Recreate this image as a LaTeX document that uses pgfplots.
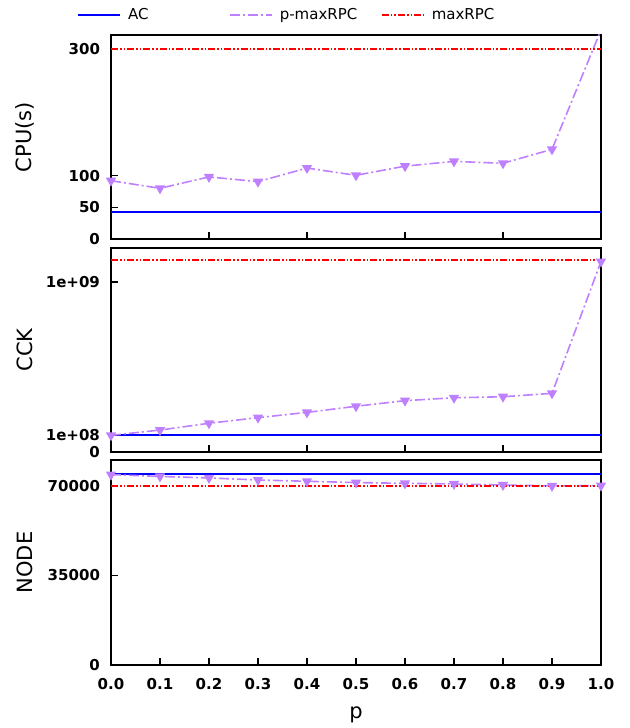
\documentclass[border=0pt]{standalone}
\usepackage{fontspec}
\setmainfont{DejaVu Sans}
\usepackage{pgfplots}
\pgfplotsset{compat=1.18}

\definecolor{acblue}{RGB}{0,0,255}
\definecolor{pmaxc}{RGB}{190,128,255}
\definecolor{maxc}{RGB}{255,0,0}

\pgfplotsset{
  panel/.style={
    scale only axis, width=245pt,
    xmin=0, xmax=1, ymin=0,
    axis line style={line width=0.9pt},
    tick align=inside, major tick length=3.5pt,
    xtick pos=bottom, ytick pos=left,
    tick style={line width=0.6pt, black},
    /pgf/number format/assume math mode=true,
    ticklabel style={font=\bfseries\fontsize{7.5}{9}\selectfont},
    yticklabel style={xshift=-2pt},
    xticklabel style={yshift=-3pt},
    label style={font=\fontsize{10.5}{12}\selectfont},
    ylabel style={at={(axis description cs:-0.175,0.5)}, anchor=center},
    scaled ticks=false,
    clip=true,
  },
  acs/.style={draw=acblue, color=acblue, line width=0.8pt, mark=none},
  pms/.style={draw=pmaxc, color=pmaxc, line width=0.8pt, dash pattern=on 5pt off 1.5pt on 1pt off 1.5pt,
    mark=triangle*, mark size=2.2pt, mark options={solid, rotate=180, fill=pmaxc, draw=pmaxc}},
  mrs/.style={draw=maxc, color=maxc, line width=1pt, dash pattern=on 3.5pt off 1pt on 0.8pt off 1pt on 0.8pt off 1pt, mark=none},
}

\begin{document}
\begin{tikzpicture}
\path[use as bounding box] (-55.5pt,-31.5pt) rectangle (259.5pt,332.5pt);

% NODE
\begin{axis}[panel, at={(0pt,0pt)}, anchor=south west, height=102.5pt,
  ymax=80000, ytick={0,35000,70000}, yticklabels={0,35000,70000},
  xtick={0,0.1,...,1.0},
  xticklabels={0.0,0.1,0.2,0.3,0.4,0.5,0.6,0.7,0.8,0.9,1.0},
  ylabel={NODE}, xlabel={p},
  xlabel style={at={(axis description cs:0.5,-0.245)}, anchor=center}]
\addplot[acs] coordinates {(0,74500)(1,74500)};
\addplot[pms] coordinates {(0,74300)(0.1,73600)(0.2,73000)(0.3,72200)(0.4,71700)(0.5,71200)(0.6,70900)(0.7,70650)(0.8,70250)(0.9,69900)(1.0,70000)};
\addplot[mrs] coordinates {(0,70000)(1,70000)};
\end{axis}

% CCK
\begin{axis}[panel, at={(0pt,106.5pt)}, anchor=south west, height=102pt,
  ymax=1.2e9, ytick={0,1e8,1e9}, yticklabels={0,1e+08,1e+09},
  xtick={0.2,0.4,0.6,0.8}, xticklabels={},
  ylabel={CCK}]
\addplot[acs] coordinates {(0,1.0e8)(1,1.0e8)};
\addplot[pms] coordinates {(0,0.98e8)(0.1,1.29e8)(0.2,1.69e8)(0.3,2.02e8)(0.4,2.33e8)(0.5,2.69e8)(0.6,3.02e8)(0.7,3.19e8)(0.8,3.25e8)(0.9,3.45e8)(1.0,1.12e9)};
\addplot[mrs] coordinates {(0,1.13e9)(1,1.13e9)};
\end{axis}

% CPU
\begin{axis}[panel, at={(0pt,213pt)}, anchor=south west, height=102pt,
  ymax=322, ytick={0,50,100,300}, yticklabels={0,50,100,300},
  xtick={0.2,0.4,0.6,0.8}, xticklabels={},
  ylabel={CPU(s)},
  legend columns=3,
  legend style={draw=none, fill=none, at={(axis description cs:-0.069,1)}, anchor=west,
    yshift=10pt, inner sep=0pt, font=\fontsize{7.5}{9}\selectfont,
    cells={anchor=west}},
  legend image code/.code={\draw[#1] (0pt,0pt) -- (21pt,0pt);},
]
\addplot[acs] coordinates {(0,43)(1,43)};
\addlegendentry{\hspace{1.5pt}\makebox[48.5pt][l]{AC}}
\addplot[pms] coordinates {(0,92)(0.1,80)(0.2,98)(0.3,90.5)(0.4,112)(0.5,100.5)(0.6,115)(0.7,122.5)(0.8,119.5)(0.9,141.5)(1.0,330)};
\addlegendentry{\hspace{1.5pt}\makebox[48.5pt][l]{p-maxRPC}}
\addplot[mrs] coordinates {(0,300)(1,300)};
\addlegendentry{\hspace{1.5pt}\makebox[48.5pt][l]{maxRPC}}
\end{axis}
\end{tikzpicture}
\end{document}
